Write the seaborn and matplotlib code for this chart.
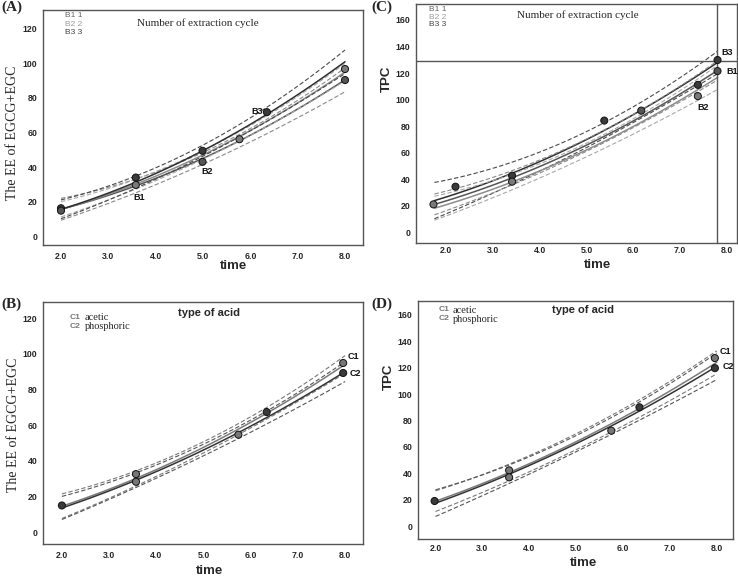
import matplotlib
matplotlib.use("Agg")
import numpy as np
import matplotlib.pyplot as plt
import seaborn as sns

# --- data ---
# (A) EE of EGCG+EGC vs time, number of extraction cycle
a_x = [2, 3, 4, 5, 6, 7, 8]
a_fit_b1 = [15.5, 23.6, 33.4, 45.0, 58.4, 73.7, 90.5]
a_fit_b2 = [15.5, 24.2, 34.7, 47.0, 61.2, 77.2, 95.0]
a_fit_b3 = [15.5, 24.9, 36.2, 49.5, 64.8, 81.9, 101.0]
a_hw_b1 = [6.5, 4.5, 3.6, 3.4, 4.0, 5.2, 6.8]
a_hw_b2 = [4.5, 3.2, 2.6, 2.5, 2.9, 3.8, 5.0]
a_hw_b3 = [5.5, 4.0, 3.3, 3.2, 3.8, 5.0, 6.8]
a_pt_time = [2.0, 2.0, 3.58, 3.58, 4.99, 4.99, 5.77, 6.35, 8.0, 8.0]
a_pt_value = [16.1, 14.7, 33.9, 29.6, 49.4, 43.0, 56.1, 71.8, 96.8, 90.4]
a_pt_group = ["B3", "B1", "B3", "B2", "B3", "B1", "B2", "B3", "B2", "B1"]

# (B) EE of EGCG+EGC vs time, type of acid
b_x = [2, 3, 4, 5, 6, 7, 8]
b_fit_c1 = [14.5, 24.0, 35.0, 47.5, 61.5, 77.0, 94.0]
b_fit_c2 = [13.5, 23.1, 33.9, 46.0, 59.4, 74.0, 90.0]
b_hw_c1 = [7.0, 5.0, 3.6, 3.1, 3.3, 3.9, 4.8]
b_hw_c2 = [6.5, 4.8, 3.6, 3.2, 3.5, 4.3, 5.5]
b_pt_time = [2.0, 3.57, 3.57, 5.74, 6.34, 7.96, 7.96]
b_pt_value = [14.9, 32.5, 28.2, 54.6, 67.3, 94.8, 89.2]
b_pt_group = ["C2", "C1", "C1", "C1", "C2", "C1", "C2"]

# (C) TPC vs time, number of extraction cycle
c_x = [1.75, 2.75, 3.75, 4.75, 5.75, 6.75, 7.8]
c_fit_b3 = [24, 35.5, 49.5, 65.5, 84, 104, 128]
c_fit_b1 = [21, 32.5, 46, 61.5, 79, 99, 122]
c_fit_b2 = [18, 29.5, 43, 58, 75, 94, 117]
c_hw_b3 = [14, 10, 7, 6, 6.5, 7, 8]
c_hw_b1 = [8, 6, 5, 4.5, 5, 6, 7]
c_hw_b2 = [9, 7, 5.5, 5, 5.5, 7, 9]
c_pt_time = [1.73, 2.2, 3.41, 3.41, 5.38, 6.17, 7.38, 7.38, 7.8, 7.8]
c_pt_value = [21.1, 34.4, 42.7, 38.2, 84.2, 91.7, 111.1, 102.6, 129.8, 121.5]
c_pt_group = ["B2", "B3", "B3", "B2", "B3", "B1", "B3", "B2", "B3", "B1"]
c_cursor_time = 7.78
c_cursor_tpc = 129.0

# (D) TPC vs time, type of acid
d_x = [2, 3, 4, 5, 6, 7, 8]
d_fit_c1 = [19, 32.3, 47.3, 64, 82.3, 102.3, 124]
d_fit_c2 = [17.5, 31, 46, 62.5, 80.5, 100, 121]
d_hw_c1 = [8, 6.5, 6, 6, 6.5, 7.5, 8.5]
d_hw_c2 = [10, 8, 6.5, 6, 6.5, 8, 10]
d_pt_time = [1.98, 3.57, 3.57, 5.75, 6.35, 7.96, 7.96]
d_pt_value = [19.1, 42.3, 37.0, 72.3, 90.0, 127.2, 119.6]
d_pt_group = ["C2", "C1", "C1", "C1", "C2", "C1", "C2"]

x_ticks = [2, 3, 4, 5, 6, 7, 8]

sns.set_style("white")
SANS = "Liberation Sans"
SERIF = "Liberation Serif"
plt.rcParams["font.family"] = [SANS, "DejaVu Sans"]

line_col = {"B1": "#555555", "B2": "#8c8c8c", "B3": "#2e2e2e", "C1": "#7a7a7a", "C2": "#333333"}
dash_col = {"B1": "#8a8a8a", "B2": "#a8a8a8", "B3": "#4a4a4a", "C1": "#7a7a7a", "C2": "#555555"}
pt_col = {"B1": "#555555", "B2": "#7a7a7a", "B3": "#3a3a3a", "C1": "#777777", "C2": "#3a3a3a"}

fig = plt.figure(figsize=(7.38, 5.76), dpi=100)
W, H = 738, 576


def px_axes(left, top, right, bottom):
    return fig.add_axes([left / W, 1 - bottom / H, (right - left) / W, (bottom - top) / H])


def draw_fits(ax, xs, fits, hws, groups):
    for fit, hw, g in zip(fits, hws, groups):
        fit = np.array(fit)
        hw = np.array(hw)
        for band in (fit - hw, fit + hw):
            sns.regplot(x=np.array(xs), y=band, order=2, ci=None, scatter=False, ax=ax,
                        color=dash_col[g], line_kws=dict(lw=0.8, linestyle=(0, (4, 2))))
        sns.regplot(x=np.array(xs), y=fit, order=2, ci=None, scatter=False, ax=ax,
                    color=line_col[g], line_kws=dict(lw=1.1))


def draw_points(ax, t, v, g):
    sns.scatterplot(x=t, y=v, hue=g, palette=pt_col, s=26, edgecolor="#111111",
                    linewidth=0.7, legend=False, ax=ax, zorder=5)


def style_axes(ax, xlim, ylim, yticks, xpad):
    ax.set_xlim(*xlim)
    ax.set_ylim(*ylim)
    ax.set_xticks(x_ticks)
    ax.set_xticklabels([f"{v:.1f}" for v in x_ticks])
    ax.set_yticks(yticks)
    ax.set_yticklabels([str(v) for v in yticks])
    ax.tick_params(direction="in", length=4, width=0.8, color="#333333", labelsize=6.3)
    ax.tick_params(axis="x", pad=xpad)
    ax.tick_params(axis="y", pad=4)
    for lab in ax.get_xticklabels() + ax.get_yticklabels():
        lab.set_fontweight("bold")
    for sp in ax.spines.values():
        sp.set_visible(True)
        sp.set_color("#555555")
        sp.set_linewidth(1.0)
    ax.set_xlabel("")
    ax.set_ylabel("")


def label_pt(ax, text, xy, dx, dy):
    # dx, dy in pixels; dy > 0 means above the point
    ax.annotate(text, xy=xy, xytext=(dx * 0.72, dy * 0.72), textcoords="offset points",
                fontsize=6.5, fontweight="bold", ha="center", va="center", color="#111111")


# ---- (A) ----
axA = px_axes(43, 10, 363, 245)
draw_fits(axA, a_x, [a_fit_b1, a_fit_b2, a_fit_b3], [a_hw_b1, a_hw_b2, a_hw_b3], ["B1", "B2", "B3"])
draw_points(axA, a_pt_time, a_pt_value, a_pt_group)
style_axes(axA, (1.62, 8.38), (-5.2, 131), list(range(0, 121, 20)), 5)
label_pt(axA, "B1", (a_pt_time[3], a_pt_value[3]), 3, -13)
label_pt(axA, "B2", (a_pt_time[5], a_pt_value[5]), 5, -10)
label_pt(axA, "B3", (a_pt_time[7], a_pt_value[7]), -10, 1)
axA.text(0.485, 0.946, "Number of extraction cycle", transform=axA.transAxes,
         ha="center", va="center", fontsize=8, family=SERIF)
for i, (txt, c) in enumerate([("B1 1", "#666666"), ("B2 2", "#9a9a9a"), ("B3 3", "#444444")]):
    axA.text(0.069, 0.976 - i * 0.036, txt, transform=axA.transAxes, fontsize=6,
             color=c, va="center", ha="left")
axA.text(-0.095, 0.477, "The EE of EGCG+EGC", transform=axA.transAxes, rotation=90,
         ha="center", va="center", fontsize=10, family=SERIF)
axA.text(0.594, -0.088, "time", transform=axA.transAxes, ha="center", va="center",
         fontsize=9.5, fontweight="bold")

# ---- (C) ----
axC = px_axes(415.7, 4, 736.7, 243)
draw_fits(axC, c_x, [c_fit_b3, c_fit_b1, c_fit_b2], [c_hw_b3, c_hw_b1, c_hw_b2], ["B3", "B1", "B2"])
draw_points(axC, c_pt_time, c_pt_value, c_pt_group)
axC.axhline(c_cursor_tpc, color="#555555", lw=1.0)
axC.axvline(c_cursor_time, color="#555555", lw=1.0)
style_axes(axC, (1.35, 8.21), (-8, 172), list(range(0, 161, 20)), 2)
label_pt(axC, "B3", (c_pt_time[8], c_pt_value[8]), 10, 8)
label_pt(axC, "B1", (c_pt_time[9], c_pt_value[9]), 15, 0)
label_pt(axC, "B2", (c_pt_time[7], c_pt_value[7]), 5, -11)
axC.text(0.506, 0.954, "Number of extraction cycle", transform=axC.transAxes,
         ha="center", va="center", fontsize=8, family=SERIF)
for i, (txt, c) in enumerate([("B1 1", "#666666"), ("B2 2", "#9a9a9a"), ("B3 3", "#444444")]):
    axC.text(0.042, 0.975 - i * 0.03, txt, transform=axC.transAxes, fontsize=6,
             color=c, va="center", ha="left")
axC.text(-0.09, 0.685, "TPC", transform=axC.transAxes, rotation=90,
         ha="center", va="center", fontsize=9.5, fontweight="bold")
axC.text(0.567, -0.09, "time", transform=axC.transAxes, ha="center", va="center",
         fontsize=9.5, fontweight="bold")

# ---- (B) ----
axB = px_axes(43, 302, 363, 544)
draw_fits(axB, b_x, [b_fit_c1, b_fit_c2], [b_hw_c1, b_hw_c2], ["C1", "C2"])
draw_points(axB, b_pt_time, b_pt_value, b_pt_group)
style_axes(axB, (1.6, 8.38), (-6.7, 129), list(range(0, 121, 20)), 5)
label_pt(axB, "C1", (b_pt_time[5], b_pt_value[5]), 10, 6)
label_pt(axB, "C2", (b_pt_time[6], b_pt_value[6]), 12, -1)
axB.text(0.52, 0.955, "type of acid", transform=axB.transAxes,
         ha="center", va="center", fontsize=8, fontweight="bold")
for i, (code, word) in enumerate([("C1", "acetic"), ("C2", "phosphoric")]):
    axB.text(0.084, 0.937 - i * 0.037, code, transform=axB.transAxes, fontsize=6,
             color="#777777", va="center", ha="left", fontweight="bold")
    axB.text(0.13, 0.935 - i * 0.037, word, transform=axB.transAxes, fontsize=7.5,
             family=SERIF, va="center", ha="left")
axB.text(-0.093, 0.493, "The EE of EGCG+EGC", transform=axB.transAxes, rotation=90,
         ha="center", va="center", fontsize=10, family=SERIF)
axB.text(0.52, -0.11, "time", transform=axB.transAxes, ha="center", va="center",
         fontsize=9.5, fontweight="bold")

# ---- (D) ----
axD = px_axes(417.7, 300.7, 732.7, 538.7)
draw_fits(axD, d_x, [d_fit_c1, d_fit_c2], [d_hw_c1, d_hw_c2], ["C1", "C2"])
draw_points(axD, d_pt_time, d_pt_value, d_pt_group)
style_axes(axD, (1.62, 8.34), (-9.4, 170.6), list(range(0, 161, 20)), 4)
label_pt(axD, "C1", (d_pt_time[5], d_pt_value[5]), 11, 7)
label_pt(axD, "C2", (d_pt_time[6], d_pt_value[6]), 13, 2)
axD.text(0.526, 0.962, "type of acid", transform=axD.transAxes,
         ha="center", va="center", fontsize=8, fontweight="bold")
for i, (code, word) in enumerate([("C1", "acetic"), ("C2", "phosphoric")]):
    axD.text(0.065, 0.962 - i * 0.038, code, transform=axD.transAxes, fontsize=6,
             color="#777777", va="center", ha="left", fontweight="bold")
    axD.text(0.11, 0.96 - i * 0.038, word, transform=axD.transAxes, fontsize=7.5,
             family=SERIF, va="center", ha="left")
axD.text(-0.093, 0.682, "TPC", transform=axD.transAxes, rotation=90,
         ha="center", va="center", fontsize=9.5, fontweight="bold")
axD.text(0.526, -0.102, "time", transform=axD.transAxes, ha="center", va="center",
         fontsize=9.5, fontweight="bold")

# panel letters
for txt, x, y in [("(A)", 1, 7), ("(C)", 371, 7), ("(B)", 1, 304.7), ("(D)", 371, 304.7)]:
    fig.text(x / W, 1 - y / H, txt, fontsize=11, fontweight="bold", family=SERIF,
             ha="left", va="center")

fig.savefig("out.png", dpi=100)
